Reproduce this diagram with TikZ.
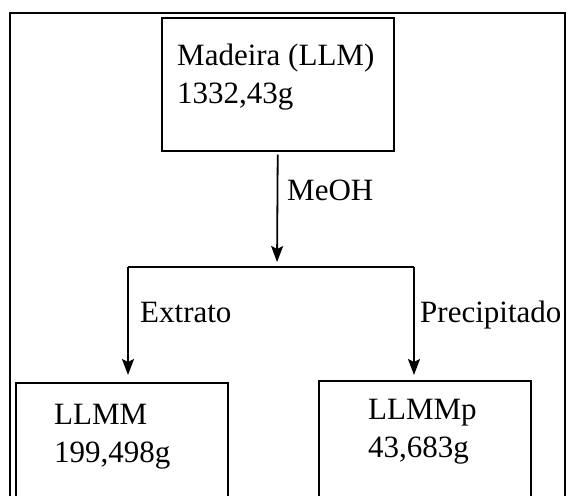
\documentclass[tikz,border=0pt]{standalone}
\usepackage{fontspec}
\setmainfont{Liberation Serif}
\usepackage{tikz}
\usetikzlibrary{arrows.meta,positioning,calc}

\begin{document}
\begin{tikzpicture}[x=1pt, y=-1pt, font=\fontsize{31}{38}\selectfont, >={Stealth[length=16pt,width=12pt,inset=3pt]}]
\tikzset{box/.style={draw=black, line width=1.5pt, rectangle, inner sep=0pt}, txt/.style={align=left, inner sep=0pt}, lbl/.style={inner sep=0pt}, arr/.style={->, line width=1.8pt}}
\useasboundingbox (0,0) rectangle (566,496);
\clip (0,0) rectangle (566,496);
\draw[line width=2.2pt] (10,13) rectangle (565,560);
% boxes
\node[box, minimum width=232pt, minimum height=133pt, anchor=north west] (madeira) at (161,17) {};
\node[box, minimum width=212pt, minimum height=160pt, anchor=north west] (llmm) at (15,382) {};
\node[box, minimum width=212pt, minimum height=160pt, anchor=north west] (llmmp) at (318,380) {};
\node[txt, anchor=north west] (madtxt) at (177,44) {Madeira (LLM)\\1332,43g};
\node[txt, anchor=north west] (llmmtxt) at (54,404) {LLMM\\199,498g};
\node[txt, anchor=north west] (llmmptxt) at (368,399) {LLMMp\\43,683g};
% split
\coordinate (split) at (277,267);
\coordinate (lsplit) at (128,267);
\coordinate (rsplit) at (414,267);
\draw[arr, shorten <=3pt, shorten >=5pt] (madeira.south) -- (split);
\draw[line width=1.8pt, line join=miter] (lsplit) -- (rsplit);
\draw[arr, shorten >=7pt] (lsplit) -- (lsplit |- llmm.north);
\draw[arr, shorten >=5pt] (rsplit) -- (rsplit |- llmmp.north);
\node[lbl, anchor=base west] (meoh) at (287,200) {MeOH};
\node[lbl, anchor=base west] (extrato) at (140,322) {Extrato};
\node[lbl, anchor=base west] (precip) at (420,322) {Precipitado};
\end{tikzpicture}
\end{document}
